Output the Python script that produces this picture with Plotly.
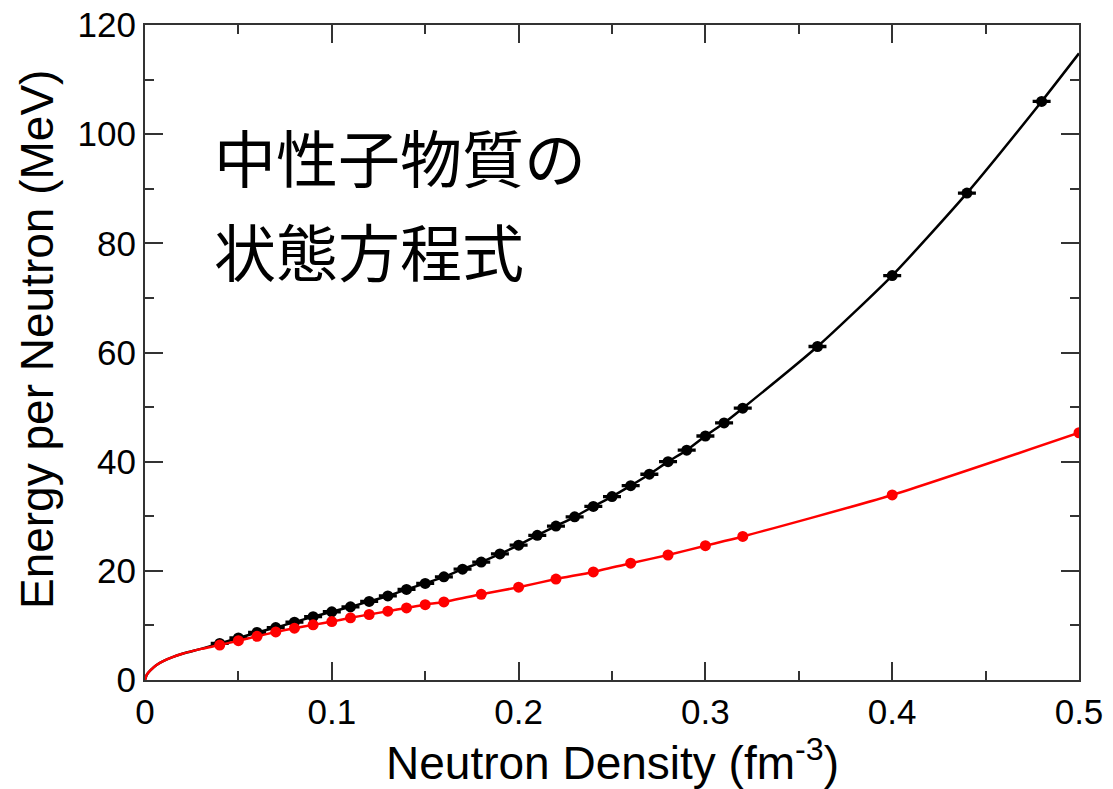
import plotly.graph_objects as go

# ---- data ----
black_x = [0.04, 0.05, 0.06, 0.07, 0.08, 0.09, 0.10, 0.11, 0.12, 0.13, 0.14, 0.15,
           0.16, 0.17, 0.18, 0.19, 0.20, 0.21, 0.22, 0.23, 0.24, 0.25, 0.26, 0.27,
           0.28, 0.29, 0.30, 0.31, 0.32, 0.36, 0.40, 0.44, 0.48]
black_y = [6.7, 7.7, 8.7, 9.6, 10.6, 11.6, 12.5, 13.4, 14.4, 15.4, 16.6, 17.7,
           18.9, 20.3, 21.6, 23.1, 24.7, 26.5, 28.2, 29.9, 31.8, 33.6, 35.6, 37.7,
           40.0, 42.1, 44.7, 47.1, 49.8, 61.1, 74.1, 89.2, 106.0]
black_err = [0.12] * len(black_x)

red_x = [0.04, 0.05, 0.06, 0.07, 0.08, 0.09, 0.10, 0.11, 0.12, 0.13, 0.14, 0.15,
         0.16, 0.18, 0.20, 0.22, 0.24, 0.26, 0.28, 0.30, 0.32, 0.40, 0.50]
red_y = [6.4, 7.2, 8.0, 8.8, 9.5, 10.1, 10.7, 11.4, 12.0, 12.6, 13.2, 13.8,
         14.3, 15.7, 17.0, 18.5, 19.8, 21.4, 22.9, 24.6, 26.3, 33.9, 45.3]

# low-density part of the fitted curves (shared by both curves)
low_x = [0.0, 0.001, 0.003, 0.006, 0.01, 0.02, 0.03]
low_y = [0.0, 1.0, 1.8, 2.7, 3.5, 4.8, 5.7]
black_end_x = [0.5]
black_end_y = [114.8]

x_ticks = [0, 0.1, 0.2, 0.3, 0.4, 0.5]
x_tick_text = ["0", "0.1", "0.2", "0.3", "0.4", "0.5"]
y_ticks = [0, 20, 40, 60, 80, 100, 120]

title_lines = ["中性子物質の", "状態方程式"]

fig = go.Figure()

# black fitted curve
fig.add_trace(go.Scatter(
    x=low_x + black_x + black_end_x, y=low_y + black_y + black_end_y,
    mode="lines", line=dict(color="black", width=2.5, shape="spline", smoothing=0.6),
    hoverinfo="skip", showlegend=False))
# black points with error bars
fig.add_trace(go.Scatter(
    x=black_x, y=black_y, mode="markers",
    marker=dict(color="black", size=11),
    error_y=dict(type="data", array=black_err, visible=True, color="black",
                 thickness=2, width=9),
    showlegend=False))
# red fitted curve
fig.add_trace(go.Scatter(
    x=low_x + red_x, y=low_y + red_y,
    mode="lines", line=dict(color="#ff0000", width=2.5, shape="spline", smoothing=0.6),
    hoverinfo="skip", showlegend=False))
# red points
fig.add_trace(go.Scatter(
    x=red_x, y=red_y, mode="markers",
    marker=dict(color="#ff0000", size=11),
    showlegend=False))

axis_common = dict(
    showgrid=False, zeroline=False, showline=True, linecolor="#333333", linewidth=2,
    mirror="allticks", ticks="inside", ticklen=18, tickwidth=2, tickcolor="#333333",
    automargin=False, ticklabeloverflow="allow",
    tickfont=dict(family="Liberation Sans, Arial, sans-serif", size=35, color="black"),
)

fig.update_xaxes(range=[0, 0.5], tickvals=x_ticks, ticktext=x_tick_text,
                 minor=dict(ticks="inside", ticklen=9, tickwidth=2, tickcolor="#333333",
                            dtick=0.05, tick0=0, showgrid=False),
                 **axis_common)
fig.update_yaxes(range=[0, 120], tickvals=y_ticks,
                 minor=dict(ticks="inside", ticklen=9, tickwidth=2, tickcolor="#333333",
                            dtick=10, tick0=0, showgrid=False),
                 **axis_common)

annotations = [
    dict(text="Energy per Neutron (MeV)", xref="paper", yref="paper",
         x=0, y=0.519, xanchor="center", yanchor="middle", xshift=-108,
         textangle=-90, showarrow=False,
         font=dict(family="Liberation Sans, Arial, sans-serif", size=46, color="black")),
    dict(text="Neutron Density (fm<sup>-3</sup>)", xref="paper", yref="paper",
         x=0.5, y=0, xanchor="center", yanchor="middle", yshift=-80,
         showarrow=False,
         font=dict(family="Liberation Sans, Arial, sans-serif", size=46, color="black")),
    dict(text=title_lines[0], xref="paper", yref="paper", x=0.072, y=0.80,
         xanchor="left", yanchor="middle", showarrow=False,
         font=dict(family="Noto Sans CJK JP", size=62, color="black")),
    dict(text=title_lines[1], xref="paper", yref="paper", x=0.072, y=0.656,
         xanchor="left", yanchor="middle", showarrow=False,
         font=dict(family="Noto Sans CJK JP", size=62, color="black")),
]

# the page body adds an 8 px offset, so the figure is sized/margined to compensate
fig.update_layout(
    width=1105, height=781, autosize=False,
    margin=dict(l=137, r=34, t=17, b=109, pad=0),
    paper_bgcolor="white", plot_bgcolor="white",
    annotations=annotations,
)

fig.write_html("out.html")
